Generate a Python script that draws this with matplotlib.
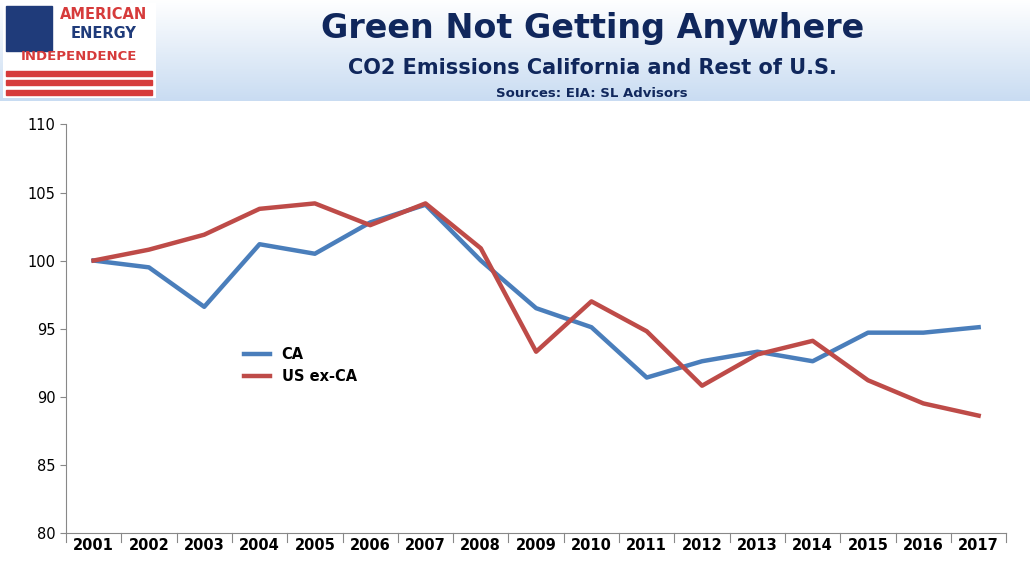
import numpy as np
import matplotlib.pyplot as plt
from matplotlib.patches import Rectangle

years = list(range(2001, 2018))
ca = [100, 99.5, 96.6, 101.2, 100.5, 102.8, 104.1, 100.0, 96.5, 95.1, 91.4, 92.6, 93.3, 92.6, 94.7, 94.7, 95.1]
us_ex_ca = [100, 100.8, 101.9, 103.8, 104.2, 102.6, 104.2, 100.9, 93.3, 97.0, 94.8, 90.8, 93.1, 94.1, 91.2, 89.5, 88.6]

fig = plt.figure(figsize=(10.3, 5.79), dpi=100)

# header band with vertical gradient
hdr = fig.add_axes([0, 0.825, 1, 0.175])
grad = np.linspace(1, 0, 100).reshape(-1, 1)
hdr.imshow(grad, aspect='auto', cmap=plt.matplotlib.colors.LinearSegmentedColormap.from_list('g', ['#c9dcf2', '#ffffff']),
           extent=[0, 1, 0, 1])
hdr.set_xlim(0, 1); hdr.set_ylim(0, 1); hdr.axis('off')
hdr.text(0.575, 0.72, 'Green Not Getting Anywhere', ha='center', va='center', fontsize=24, fontweight='bold', color='#10275c')
hdr.text(0.575, 0.33, 'CO2 Emissions California and Rest of U.S.', ha='center', va='center', fontsize=15, fontweight='bold', color='#10275c')
hdr.text(0.575, 0.08, 'Sources: EIA: SL Advisors', ha='center', va='center', fontsize=9.5, fontweight='bold', color='#10275c')

# logo
logo = fig.add_axes([0.003, 0.83, 0.148, 0.165])
logo.set_xlim(0, 1); logo.set_ylim(0, 1); logo.axis('off')
logo.add_patch(Rectangle((0, 0), 1, 1, color='white'))
logo.add_patch(Rectangle((0.02, 0.5), 0.3, 0.47, color='#1f3b7a'))
for i in range(3):
    logo.add_patch(Rectangle((0.02, 0.04 + i * 0.1), 0.96, 0.05, color='#d63b3b'))
logo.text(0.66, 0.88, 'AMERICAN', ha='center', va='center', fontsize=10.5, fontweight='bold', color='#d63b3b')
logo.text(0.66, 0.68, 'ENERGY', ha='center', va='center', fontsize=10.5, fontweight='bold', color='#1f3b7a')
logo.text(0.5, 0.44, 'INDEPENDENCE', ha='center', va='center', fontsize=9.5, fontweight='bold', color='#d63b3b')

ax = fig.add_axes([0.064, 0.08, 0.913, 0.705])
ax.plot(years, ca, color='#4a7ebb', lw=3.2, label='CA')
ax.plot(years, us_ex_ca, color='#be4b48', lw=3.2, label='US ex-CA')
ax.set_xlim(2000.5, 2017.5)
ax.set_ylim(80, 110)
ax.set_yticks(range(80, 111, 5))
ax.set_xticks(years)
ax.set_xticklabels([str(y) for y in years], fontweight='bold')
ax.tick_params(labelsize=10.5, length=4, color='#888888')
for s in ['top', 'right']:
    ax.spines[s].set_visible(False)
for s in ['left', 'bottom']:
    ax.spines[s].set_color('#888888')
for x in np.arange(2000.5, 2018, 1):
    ax.plot([x, x], [80, 79.3], color='#888888', lw=0.8, clip_on=False)
ax.tick_params(axis='x', length=0)
ax.legend(loc='center left', bbox_to_anchor=(0.175, 0.41), frameon=False,
          prop={'weight': 'bold', 'size': 10.5}, handlelength=1.8)

fig.savefig('out.png', dpi=100)
